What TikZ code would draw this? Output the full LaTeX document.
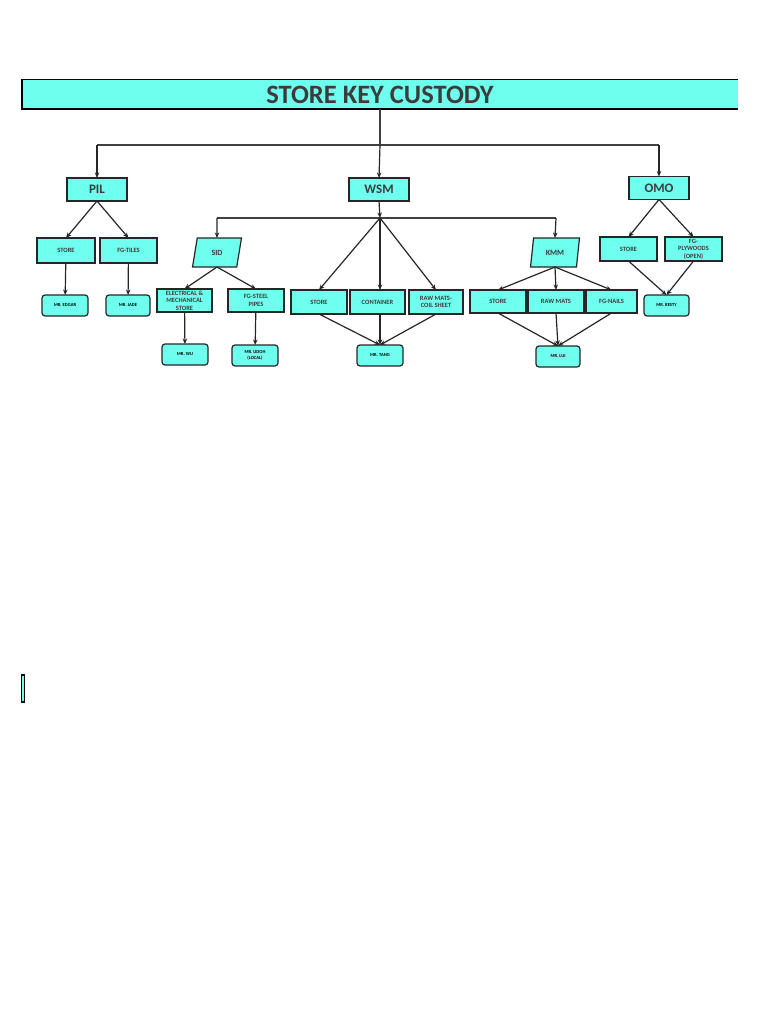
\documentclass[tikz,border=0pt]{standalone}
\usepackage{fontspec}
\setmainfont{Carlito}
\usetikzlibrary{arrows.meta,shapes.geometric}

\definecolor{keycyan}{RGB}{111,255,238}
\definecolor{keytext}{RGB}{60,60,60}

\tikzset{
    link/.style={draw=black!85, line width=1.2pt, -{Stealth[length=5.5pt,width=4.5pt]}},
    bus/.style={draw=black!75, line width=1.2pt},
    sitebox/.style={draw=black!85, line width=1.2pt, fill=keycyan, text=keytext,
        minimum width=60pt, minimum height=23pt, inner sep=0pt, outer sep=0pt,
        font=\fontsize{13}{14}\selectfont\bfseries},
    unitbox/.style={draw=black!85, line width=1.2pt, fill=keycyan, text=keytext,
        trapezium, trapezium left angle=76, trapezium right angle=104,
        trapezium stretches=true, minimum width=49pt, minimum height=29pt,
        inner sep=0pt, outer sep=0pt, font=\fontsize{8}{9}\selectfont\bfseries},
    roombox/.style={draw=black!85, line width=1.2pt, fill=keycyan, text=keytext,
        minimum width=56pt, minimum height=24pt, inner sep=0pt, outer sep=0pt,
        align=center, font=\fontsize{6.5}{7.5}\selectfont\bfseries},
    keeperbox/.style={draw=black!85, line width=1.2pt, fill=keycyan, text=black,
        rounded corners=3pt, minimum width=46pt, minimum height=21pt,
        inner sep=0pt, outer sep=0pt, align=center,
        font=\fontsize{4.6}{5.4}\selectfont\bfseries}
}

\begin{document}
\begin{tikzpicture}[x=1pt, y=-1pt]
    \useasboundingbox (0,0) rectangle (768,1024);

    \node[fill=keycyan, minimum width=716pt, minimum height=29pt, inner sep=0pt,
        text=keytext, font=\fontsize{26.5}{28}\selectfont\bfseries] (title) at (380,94.5) {STORE KEY CUSTODY};
    \draw[line width=1.4pt] (title.north east) -- (title.north west) -- (title.south west) -- (title.south east);

    \node[sitebox] (pil) at (97,189.5) {PIL};
    \node[sitebox] (wsm) at (379,189.5) {WSM};
    \node[sitebox] (omo) at (659,188) {OMO};

    \coordinate (top) at (380,145);
    \coordinate (topleft) at (97,145);
    \coordinate (topright) at (659,145);
    \draw[bus] (title.south -| top) -- (top);
    \draw[bus] (topleft) -- (topright);
    \draw[link] (topleft) -- (pil.north);
    \draw[link] (top) -- (wsm.north);
    \draw[link] (topright) -- (omo.north);

    \node[roombox, minimum width=58pt, minimum height=25pt] (pilstore) at (66,250.5) {STORE};
    \node[roombox, minimum width=57pt, minimum height=25pt] (piltiles) at (128.5,250.5) {FG-TILES};
    \node[keeperbox] (edgar) at (65,305.5) {MR. EDGAR};
    \node[keeperbox, minimum width=44pt] (jade) at (128,305.5) {MR. JADE};
    \draw[link] (pil.south) -- (pilstore.north);
    \draw[link] (pil.south) -- (piltiles.north);
    \draw[link] (pilstore) -- (edgar);
    \draw[link] (piltiles) -- (jade);

    \coordinate (hub) at (380,218);
    \coordinate (hubleft) at (217,218);
    \coordinate (hubright) at (556,218);
    \draw[link] (wsm.south) -- (hub);
    \draw[bus] (hubleft) -- (hubright);

    \node[unitbox] (sid) at (217,252.5) {SID};
    \node[unitbox] (kmm) at (555,252.5) {KMM};
    \draw[link] (hubleft) -- (sid.north);
    \draw[link] (hubright) -- (kmm.north);

    \node[roombox, minimum width=55pt, minimum height=23pt] (sidelec) at (184.5,300.5) {ELECTRICAL \&\\MECHANICAL\\STORE};
    \node[roombox, minimum width=56pt, minimum height=23pt] (sidpipes) at (256,300.5) {FG-STEEL\\PIPES};
    \node[keeperbox] (wu) at (185,354.5) {MR. WU};
    \node[keeperbox] (udoh) at (255,355.5) {MR. UDOH\\(LOCAL)};
    \draw[link] (sid.south) -- (sidelec.north);
    \draw[link] (sid.south) -- (sidpipes.north);
    \draw[link] (sidelec) -- (wu);
    \draw[link] (sidpipes) -- (udoh);

    \node[roombox] (wsmstore) at (319,302) {STORE};
    \node[roombox, minimum width=55pt] (wsmcont) at (377.5,302) {CONTAINER};
    \node[roombox, minimum width=54pt] (wsmcoil) at (436,302) {RAW MATS-\\COIL SHEET};
    \node[keeperbox] (tang) at (380,355.5) {MR. TANG};
    \draw[link] (hub) -- (wsmstore.north);
    \draw[link] (hub) -- (wsmcont.north -| hub);
    \draw[link] (hub) -- (wsmcoil.north);
    \draw[link] (wsmstore.south) -- (tang.north);
    \draw[link] (wsmcont.south -| tang) -- (tang.north);
    \draw[link] (wsmcoil.south) -- (tang.north);

    \node[roombox, minimum height=23pt] (kmmstore) at (498,301.5) {STORE};
    \node[roombox, minimum height=23pt] (kmmraw) at (556,301.5) {RAW MATS};
    \node[roombox, minimum width=51pt, minimum height=23pt] (kmmnails) at (611.5,301.5) {FG-NAILS};
    \node[keeperbox, minimum width=44pt] (lui) at (558,356.5) {MR. LUI};
    \draw[link] (kmm.south) -- (kmmstore.north);
    \draw[link] (kmm.south) -- (kmmraw.north);
    \draw[link] (kmm.south) -- (kmmnails.north);
    \draw[link] (kmmstore.south) -- (lui.north);
    \draw[link] (kmmraw.south) -- (lui.north);
    \draw[link] (kmmnails.south) -- (lui.north);

    \node[roombox, minimum width=57pt] (omostore) at (628.5,249) {STORE};
    \node[roombox, minimum width=57pt] (omoply) at (693.5,249) {FG-\\PLYWOODS\\(OPEN)};
    \node[keeperbox, minimum width=45pt] (besty) at (666.5,305.5) {MR. BESTY};
    \draw[link] (omo.south) -- (omostore.north);
    \draw[link] (omo.south) -- (omoply.north);
    \draw[link] (omostore.south) -- (besty.north);
    \draw[link] (omoply.south) -- (besty.north);

    \node[fill=keycyan, draw=black, line width=1.2pt, minimum width=3pt, minimum height=27pt,
        inner sep=0pt] (marker) at (23,688.5) {};
\end{tikzpicture}
\end{document}
